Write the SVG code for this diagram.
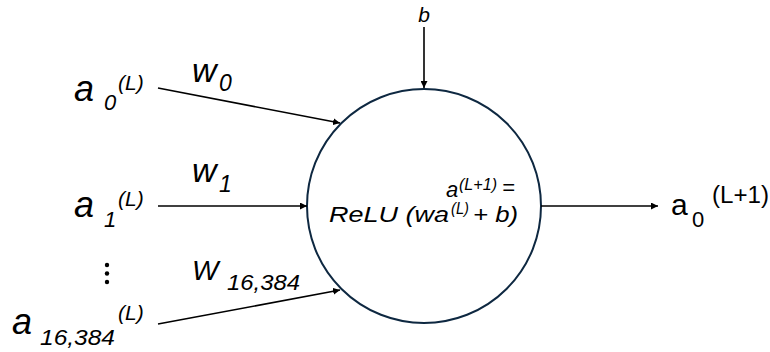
<svg xmlns="http://www.w3.org/2000/svg" width="770" height="352" viewBox="0 0 770 352">
<style>
text{font-family:"Liberation Sans",Arial,sans-serif;fill:#000}
.it{font-style:italic}
.conn line{stroke:#000;stroke-width:1.6;marker-end:url(#ah)}
</style>
<defs>
<marker id="ah" viewBox="0 0 10 10" refX="10" refY="5" markerWidth="7" markerHeight="7" markerUnits="userSpaceOnUse" orient="auto"><path d="M0,0 L10,5 L0,10 z" fill="#000"/></marker>
</defs>
<rect width="770" height="352" fill="#fff"/>
<g id="neuron">
<circle cx="424" cy="206" r="117" fill="#fff" stroke="#0e2841" stroke-width="2"/>
<text class="it" font-size="22"><tspan x="446" y="197">a</tspan><tspan x="459" y="190" font-size="16" textLength="38" lengthAdjust="spacingAndGlyphs">(L+1)</tspan><tspan x="502" y="195" font-size="22">=</tspan></text>
<text class="it" font-size="22"><tspan x="329" y="222" textLength="120" lengthAdjust="spacingAndGlyphs">ReLU (wa</tspan><tspan x="451" y="214" font-size="16" textLength="18" lengthAdjust="spacingAndGlyphs">(L)</tspan><tspan x="473" y="222" textLength="45" lengthAdjust="spacingAndGlyphs">+ b)</tspan></text>
</g>
<g id="bias"><text class="it" x="424" y="22" font-size="21" text-anchor="middle">b</text></g>
<g id="in0">
<text class="it" x="74" y="101" font-size="36">a</text>
<text class="it" x="104" y="110" font-size="22">0</text>
<text class="it" x="118" y="90" font-size="21">(L)</text>
</g>
<g id="in1">
<text class="it" x="74" y="217" font-size="36">a</text>
<text class="it" x="104" y="227" font-size="22">1</text>
<text class="it" x="118" y="206" font-size="21">(L)</text>
</g>
<g id="dots">
<circle cx="107" cy="265" r="2.2"/><circle cx="107" cy="273.5" r="2.2"/><circle cx="107" cy="282" r="2.2"/>
</g>
<g id="in2">
<text class="it" x="12" y="334" font-size="36">a</text>
<text class="it" x="40" y="345" font-size="22" textLength="75" lengthAdjust="spacingAndGlyphs">16,384</text>
<text class="it" x="118" y="320" font-size="21">(L)</text>
</g>
<g id="w0"><text class="it" x="192" y="82" font-size="34">w</text><text class="it" x="219" y="91" font-size="23">0</text></g>
<g id="w1"><text class="it" x="192" y="182" font-size="34">w</text><text class="it" x="219" y="192" font-size="23">1</text></g>
<g id="w2"><text class="it" x="192" y="280" font-size="28">W</text><text class="it" x="227" y="290" font-size="22" textLength="73" lengthAdjust="spacingAndGlyphs">16,384</text></g>
<g id="out">
<text x="671" y="215" font-size="30">a</text>
<text x="692" y="227" font-size="22">0</text>
<text x="712" y="203" font-size="23" textLength="57" lengthAdjust="spacingAndGlyphs">(L+1)</text>
</g>
<g class="conn">
<line x1="424" y1="27" x2="424" y2="88"/>
<line x1="158" y1="88" x2="340" y2="123"/>
<line x1="158" y1="206" x2="307" y2="206"/>
<line x1="158" y1="324" x2="340" y2="290"/>
<line x1="541" y1="206" x2="658" y2="206"/>
</g>
</svg>
